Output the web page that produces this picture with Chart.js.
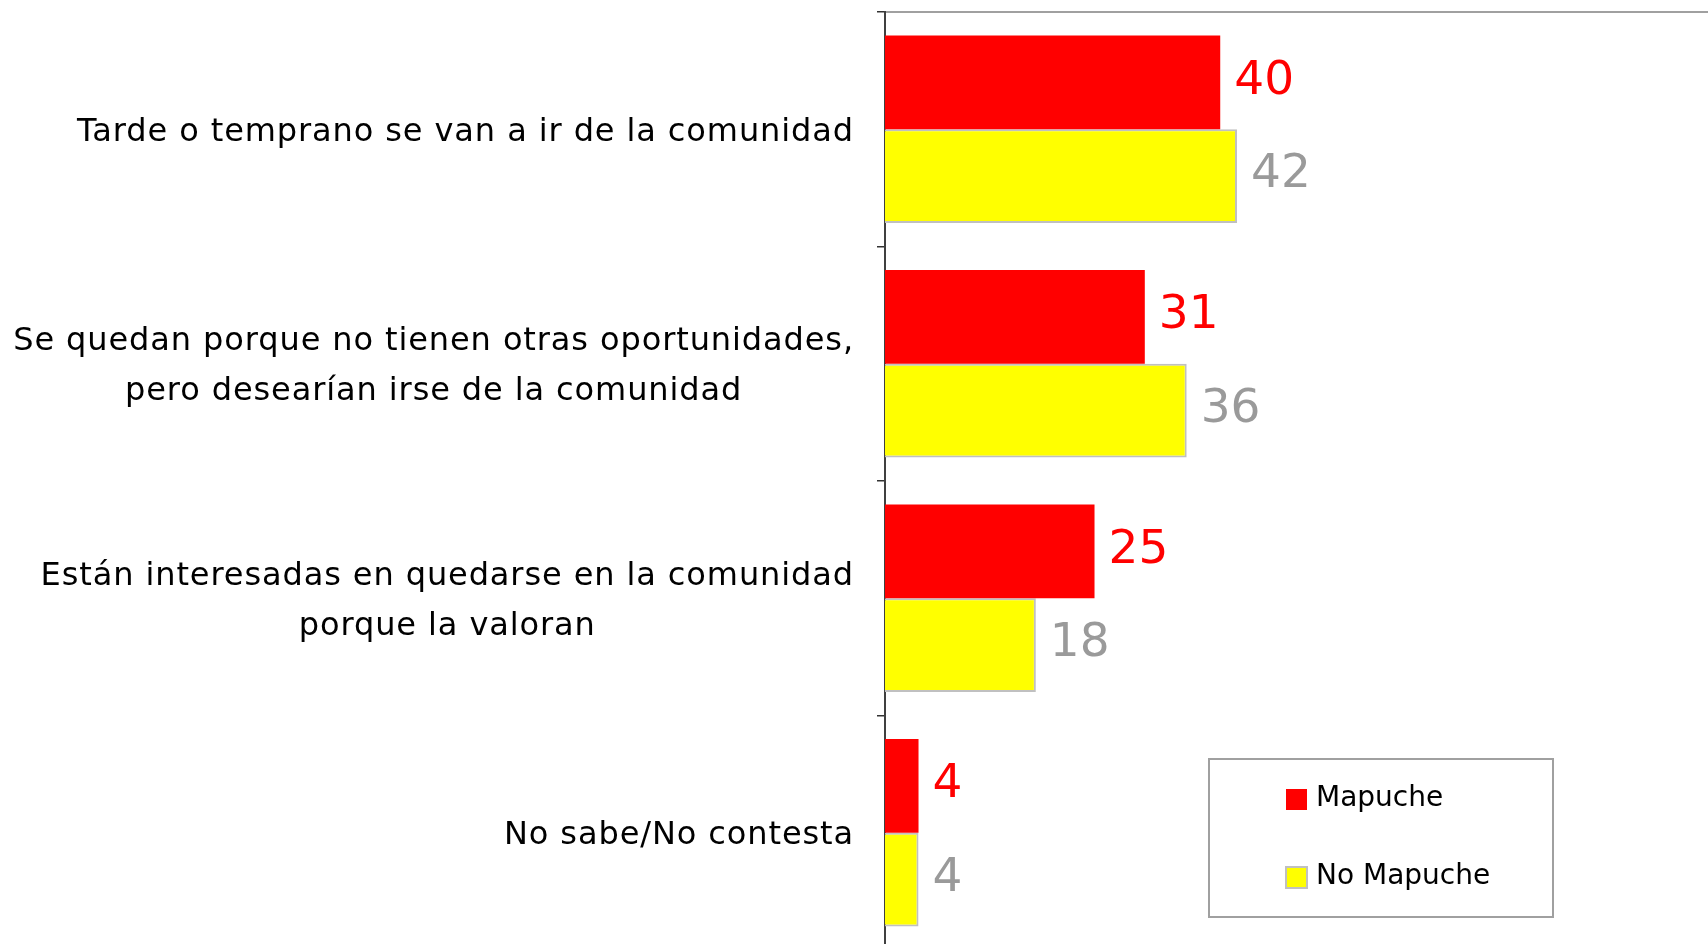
<!DOCTYPE html>
<html>
<head>
<meta charset="utf-8">
<script src="https://cdn.jsdelivr.net/npm/chart.js@4.4.1/dist/chart.umd.min.js"></script>
<style>
  html, body { margin: 0; padding: 0; background: #ffffff; overflow: hidden; }
  #wrap { width: 1708px; height: 944px; overflow: hidden; position: relative; }
  canvas { display: block; }
</style>
</head>
<body>
<div id="wrap"><canvas id="c" width="1708" height="950"></canvas></div>
<script>
// ---- Data ----
const categories = [
  ["Tarde o temprano se van a ir de la comunidad"],
  ["Se quedan porque no tienen otras oportunidades,", "pero desearían irse de la comunidad"],
  ["Están interesadas en quedarse en la comunidad", "porque la valoran"],
  ["No sabe/No contesta"]
];
const seriesNames = ["Mapuche", "No Mapuche"];
const mapucheValues = [40, 31, 25, 4];
const noMapucheValues = [42, 36, 18, 4];

// ---- Styles ----
const RED = '#ff0000';
const YELLOW = '#ffff00';
const LABEL_FONT = '"DejaVu Sans", sans-serif';

const categoryLabelsPlugin = {
  id: 'categoryLabels',
  afterDraw(chart) {
    const ctx = chart.ctx;
    const yScale = chart.scales.y;
    const right = chart.chartArea.left - 31;
    ctx.save();
    ctx.font = '32px ' + LABEL_FONT;
    try { ctx.letterSpacing = '0.9px'; } catch (e) {}
    ctx.fillStyle = '#000000';
    ctx.textBaseline = 'middle';
    ctx.textAlign = 'center';
    const lineH = 50;
    chart.data.labels.forEach((lines, i) => {
      const cy = yScale.getPixelForValue(i);
      let w = 0;
      lines.forEach(l => { w = Math.max(w, ctx.measureText(l).width); });
      const cx = right - w / 2;
      lines.forEach((l, j) => {
        const y = cy + (j - (lines.length - 1) / 2) * lineH + 3;
        ctx.fillText(l, cx, y);
      });
    });
    ctx.restore();
  }
};

const valueLabelsPlugin = {
  id: 'valueLabels',
  afterDatasetsDraw(chart) {
    const ctx = chart.ctx;
    ctx.save();
    ctx.font = '47px ' + LABEL_FONT;
    ctx.textAlign = 'left';
    ctx.textBaseline = 'middle';
    const colors = [RED, '#9a9a9a'];
    chart.data.datasets.forEach((ds, di) => {
      const meta = chart.getDatasetMeta(di);
      ctx.fillStyle = colors[di];
      meta.data.forEach((bar, i) => {
        ctx.fillText(String(ds.data[i]), bar.x + 14, bar.y - 1);
      });
    });
    ctx.restore();
  }
};

const boxLegendPlugin = {
  id: 'boxLegend',
  afterDraw(chart) {
    const ctx = chart.ctx;
    const ca = chart.chartArea;
    const bx = ca.left + 324, by = 759, bw = 344, bh = 158;
    ctx.save();
    ctx.fillStyle = '#ffffff';
    ctx.fillRect(bx, by, bw, bh);
    ctx.strokeStyle = '#a0a0a0';
    ctx.lineWidth = 2;
    ctx.strokeRect(bx, by, bw, bh);
    ctx.font = '28px ' + LABEL_FONT;
    ctx.textBaseline = 'middle';
    ctx.textAlign = 'left';
    const rows = [by + 40, by + 118];
    chart.data.datasets.forEach((ds, i) => {
      const y = rows[i];
      const sx = bx + 77;
      ctx.fillStyle = ds.backgroundColor;
      ctx.fillRect(sx, y - 10, 21, 21);
      if (ds.borderWidth) {
        ctx.strokeStyle = ds.borderColor;
        ctx.lineWidth = 2;
        ctx.strokeRect(sx, y - 10, 21, 21);
      }
      ctx.fillStyle = '#000000';
      ctx.fillText(ds.label, sx + 30, y);
    });
    ctx.restore();
  }
};

new Chart(document.getElementById('c'), {
  type: 'bar',
  data: {
    labels: categories,
    datasets: [
      {
        label: seriesNames[0],
        data: mapucheValues,
        backgroundColor: RED,
        borderWidth: 0,
        categoryPercentage: 0.8,
        barPercentage: 1.0
      },
      {
        label: seriesNames[1],
        data: noMapucheValues,
        backgroundColor: YELLOW,
        borderColor: '#c0c0c0',
        borderWidth: 2,
        categoryPercentage: 0.8,
        barPercentage: 1.0
      }
    ]
  },
  options: {
    indexAxis: 'y',
    responsive: false,
    animation: false,
    layout: { padding: { top: 12, left: 0, right: 0, bottom: 0 } },
    plugins: {
      legend: { display: false },
      tooltip: { enabled: false }
    },
    scales: {
      x: {
        position: 'top',
        min: 0,
        max: 98.2,
        ticks: { display: false },
        grid: { display: false },
        border: { display: true, color: '#a0a0a0', width: 2 },
        afterFit(scale) { scale.height = 0; }
      },
      y: {
        ticks: { display: false },
        grid: {
          display: true,
          drawOnChartArea: false,
          drawTicks: true,
          tickLength: 8,
          color: '#333333',
          lineWidth: 1.5
        },
        border: { display: true, color: '#404040', width: 2 },
        afterFit(scale) { scale.width = 885; }
      }
    }
  },
  plugins: [categoryLabelsPlugin, valueLabelsPlugin, boxLegendPlugin]
});
</script>
</body>
</html>
